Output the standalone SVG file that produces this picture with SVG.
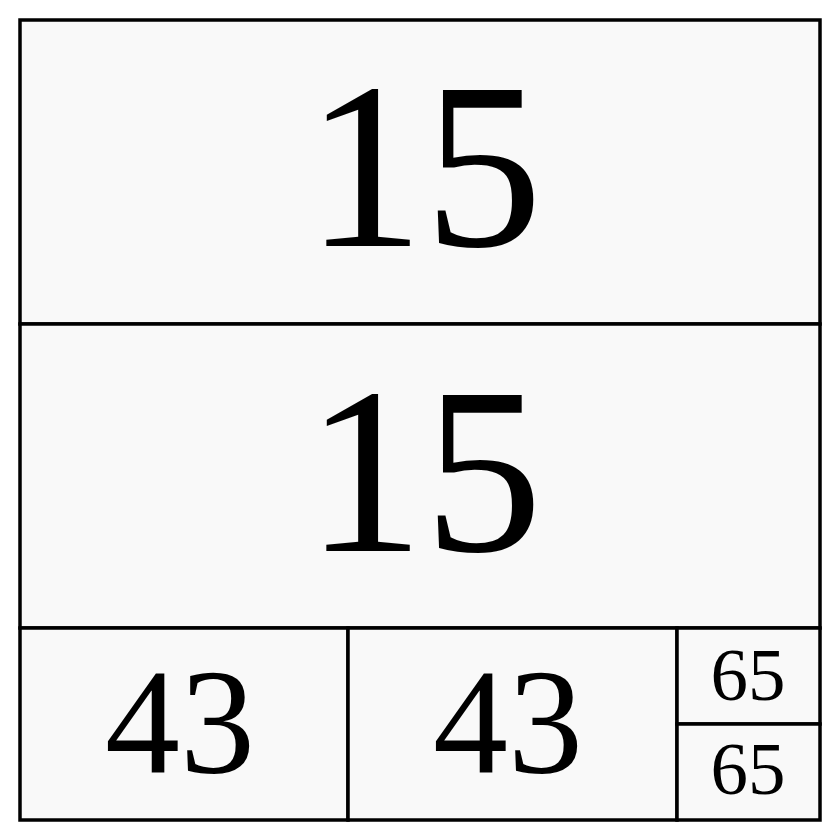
<svg xmlns="http://www.w3.org/2000/svg" width="840" height="840" viewBox="0 0 840 840">
<style>
.c{fill:#f9f9f9;stroke:#000;stroke-width:3.5}
.t{font-family:"Liberation Serif","Times New Roman",serif;fill:#000;text-anchor:middle}
</style>
<rect width="840" height="840" fill="#fff"/>
<g id="n1"><rect class="c" x="20" y="20" width="800" height="304"/><text class="t" x="424" y="246" font-size="237">15</text></g>
<g id="n2"><rect class="c" x="20" y="324" width="800" height="304"/><text class="t" x="424" y="551" font-size="237">15</text></g>
<g id="n3"><rect class="c" x="20" y="628" width="328" height="192"/><text class="t" x="180" y="773" font-size="150">43</text></g>
<g id="n4"><rect class="c" x="348" y="628" width="329" height="192"/><text class="t" x="508" y="773" font-size="150">43</text></g>
<g id="n5"><rect class="c" x="677" y="628" width="143" height="96"/><text class="t" x="748" y="700" font-size="75">65</text></g>
<g id="n6"><rect class="c" x="677" y="724" width="143" height="96"/><text class="t" x="748" y="794" font-size="75">65</text></g>
</svg>
